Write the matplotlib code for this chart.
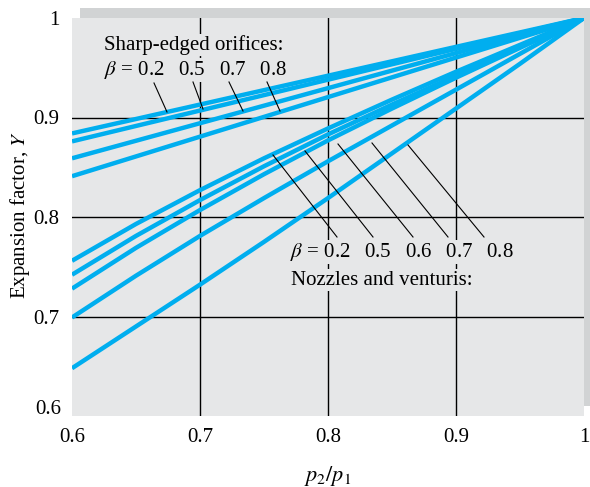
import matplotlib.pyplot as plt
from matplotlib.patches import Rectangle

# sharp-edged orifices (straight lines), values read at p2/p1 = 0.6 and 1
orifice_x = [0.6, 1.0]
orifice_beta = ["0.2", "0.5", "0.7", "0.8"]
orifice_y = [
    [0.884, 1.0],
    [0.876, 1.0],
    [0.859, 1.0],
    [0.841, 1.0],
]

# nozzles and venturis
nozzle_x = [0.6, 0.65, 0.7, 0.75, 0.8, 0.85, 0.9, 0.95, 1.0]
nozzle_beta = ["0.2", "0.5", "0.6", "0.7", "0.8"]
nozzle_y = [
    [0.756, 0.793, 0.827, 0.859, 0.889, 0.918, 0.946, 0.973, 1.0],
    [0.742, 0.781, 0.817, 0.851, 0.883, 0.913, 0.942, 0.971, 1.0],
    [0.728, 0.769, 0.807, 0.843, 0.877, 0.909, 0.940, 0.970, 1.0],
    [0.699, 0.741, 0.781, 0.819, 0.856, 0.892, 0.928, 0.964, 1.0],
    [0.648, 0.690, 0.732, 0.775, 0.819, 0.864, 0.909, 0.954, 1.0],
]

plt.rcParams["font.family"] = ["Liberation Serif", "DejaVu Serif"]
plt.rcParams["mathtext.fontset"] = "stix"

blue = "#00aeef"
bg = "#e6e7e8"
fs = 15
gap = "  \u2009"

fig = plt.figure(figsize=(5.9, 4.87), dpi=100)
ax = fig.add_axes([72 / 590, 1 - 416 / 487, 512 / 590, 398 / 487])

# drop shadow behind the plot area
fig.patches.append(Rectangle((80 / 590, 1 - 406 / 487), 510 / 590, 398 / 487,
                             transform=fig.transFigure, facecolor="#d1d3d4",
                             edgecolor="none", zorder=-5))

ax.set_facecolor(bg)
for s in ax.spines.values():
    s.set_visible(False)
ax.set_xlim(0.6, 1.0)
ax.set_ylim(0.6, 1.0)

for v in [0.7, 0.8, 0.9]:
    ax.axvline(v, color="black", lw=1.0, zorder=1)
    ax.axhline(v, color="black", lw=1.0, zorder=1)

for ys in orifice_y:
    ax.plot(orifice_x, ys, color=blue, lw=3.2, solid_capstyle="butt", zorder=3)
for ys in nozzle_y:
    ax.plot(nozzle_x, ys, color=blue, lw=3.2, solid_capstyle="butt", zorder=3)

ax.set_xticks([0.6, 0.7, 0.8, 0.9, 1.0])
ax.set_xticklabels(["0.6", "0.7", "0.8", "0.9", "1"])
ax.set_yticks([0.7, 0.8, 0.9, 1.0])
ax.set_yticklabels(["0.7", "0.8", "0.9", "1"])
ax.tick_params(length=0, labelsize=fs, pad=9)
fig.text(61 / 590, 1 - 409 / 487, "0.6", ha="right", va="center", fontsize=fs)

ax.set_xlabel("$p_2/p_1$", fontsize=16, labelpad=12)
fig.text(20 / 590, 1 - 215 / 487, "Expansion factor, $Y$", fontsize=fs,
         rotation=90, ha="center", va="center")

box = dict(facecolor=bg, edgecolor="none", pad=1)

def px(x, y):
    return 0.6 + (x - 72) / 1280, 1 - (y - 18) / 995

ax.text(*px(104, 45), "Sharp-edged orifices:", fontsize=fs, va="center",
        ha="left", bbox=box, zorder=4)
ax.text(*px(104, 70), r"$\beta$ = " + gap.join(orifice_beta),
        fontsize=fs, va="center", ha="left", bbox=box, zorder=4)
ax.text(*px(290, 252), r"$\beta$ = " + gap.join(nozzle_beta),
        fontsize=fs, va="center", ha="left", bbox=box, zorder=4)
ax.text(*px(291, 280), "Nozzles and venturis:", fontsize=fs, va="center",
        ha="left", bbox=box, zorder=4)

orifice_leaders = [((154, 83), (167, 112)), ((193, 82), (203, 109)),
                   ((229, 82), (243, 111)), ((267, 82), (280, 111))]
nozzle_leaders = [((273, 155), (337, 237)), ((305, 151), (373, 237)),
                  ((338, 144), (413, 237)), ((372, 143), (448, 237)),
                  ((408, 145), (484, 237))]
for a, b in orifice_leaders + nozzle_leaders:
    (x0, y0), (x1, y1) = px(*a), px(*b)
    ax.plot([x0, x1], [y0, y1], color="black", lw=0.8, zorder=5)

fig.savefig("out.png", dpi=100)
